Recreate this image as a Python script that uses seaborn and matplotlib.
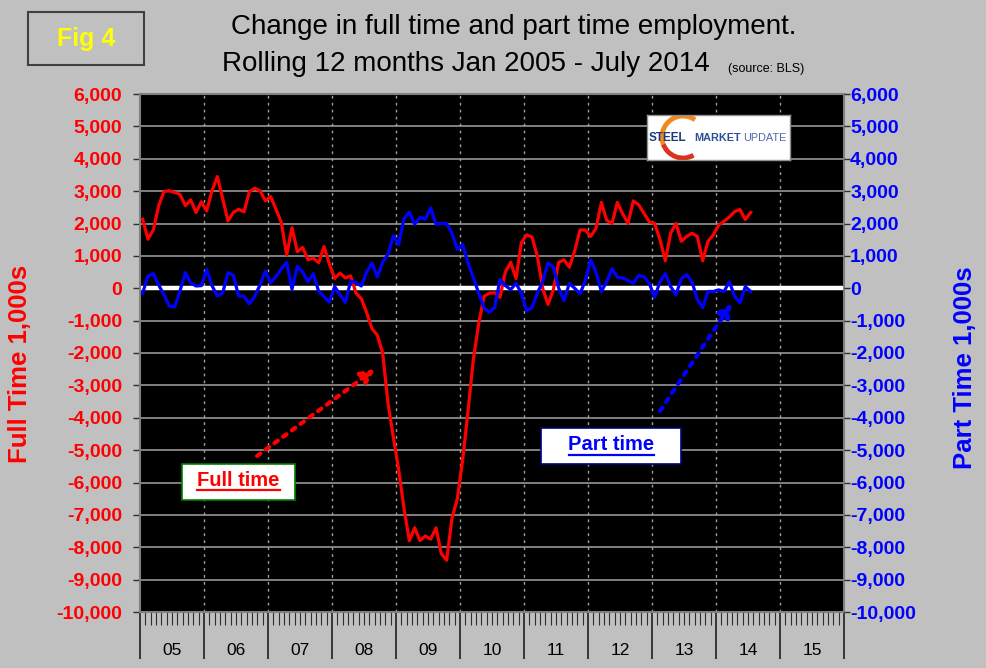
import numpy as np
import pandas as pd
import matplotlib
matplotlib.use("Agg")
import matplotlib.pyplot as plt
import seaborn as sns
from matplotlib.patches import Rectangle, Arc
from matplotlib.lines import Line2D
import matplotlib.transforms as mtransforms

# ---------------- data (thousands, rolling 12-month change) ----------------
year_labels = ["05", "06", "07", "08", "09", "10", "11", "12", "13", "14", "15"]
first_year = 2005
n_months = 115  # Jan 2005 .. Jul 2014

full_time = [
    2130, 1515, 1800, 2550, 2990, 3010, 2960, 2900, 2550, 2730, 2340, 2670,   # 2005
    2390, 3010, 3450, 2770, 2080, 2340, 2440, 2360, 2980, 3090, 3010, 2700,   # 2006
    2830, 2440, 2030, 1030, 1870, 1130, 1260, 880, 930, 790, 1290, 750,       # 2007
    300, 470, 320, 380, -150, -320, -750, -1250, -1450, -2000, -3550, -4600,  # 2008
    -5600, -6800, -7800, -7400, -7800, -7650, -7750, -7400, -8200, -8400, -7100, -6500,  # 2009
    -5300, -3800, -2200, -1100, -250, -150, -140, -280, 500, 800, 300, 1400,  # 2010
    1650, 1580, 1000, 0, -500, -50, 800, 880, 650, 1150, 1800, 1800,          # 2011
    1600, 1850, 2650, 2100, 2000, 2650, 2300, 2000, 2700, 2580, 2310, 2050,   # 2012
    2000, 1500, 850, 1700, 2000, 1450, 1600, 1700, 1600, 850, 1450, 1650,     # 2013
    1950, 2070, 2200, 2370, 2430, 2120, 2340,                                 # 2014
]

part_time = [
    -150, 380, 450, 100, -200, -550, -580, -80, 480, 170, 70, 80,             # 2005
    580, 80, -240, -150, 480, 400, -240, -250, -480, -250, 100, 530,          # 2006
    170, 360, 600, 800, -30, 680, 500, 200, 450, -100, -250, -430,            # 2007
    50, -200, -440, 220, 170, 70, 500, 780, 350, 800, 1050, 1620,             # 2008
    1350, 2150, 2350, 1980, 2190, 2130, 2480, 1980, 2000, 2000, 1700, 1200,   # 2009
    1350, 780, 330, -150, -600, -740, -600, 270, 80, -40, 150, -150,          # 2010
    -700, -600, -150, 200, 780, 650, 0, -380, 150, 0, -170, 230,              # 2011
    870, 500, -100, 200, 600, 340, 320, 240, 150, 400, 350, 150,              # 2012
    -280, 200, 450, 50, -200, 300, 420, 200, -350, -600, -100, -100,          # 2013
    -50, -100, 200, -250, -450, 50, -100,                                     # 2014
]

y_ticks = list(range(-10000, 6001, 1000))

t = first_year + (np.arange(n_months) + 0.5) / 12.0
df = pd.DataFrame({"t": t, "full": full_time, "part": part_time})

# ---------------- figure ----------------
plt.rcParams["font.family"] = ["Liberation Sans", "DejaVu Sans"]
W, H = 987, 668
BG = "#c0c0c0"
fig = plt.figure(figsize=(W / 100, H / 100), dpi=100, facecolor=BG)

def fx(x):
    return x / W

def fy(y):
    return 1 - y / H

ax = fig.add_axes([fx(140), fy(612), 704 / W, 518 / H])
ax.set_facecolor("black")
ax.set_xlim(first_year, first_year + 11)
ax.set_ylim(-10000, 6000)

# grid
for v in y_ticks:
    if v != 0:
        ax.axhline(v, color="#808080", lw=1.4, zorder=1)
for yr in range(first_year + 1, first_year + 11):
    ax.axvline(yr, color="#a0a0a0", lw=1.0, ls=(0, (2, 3)), zorder=1)
ax.axhline(0, color="white", lw=3.2, zorder=2)

sns.lineplot(data=df, x="t", y="full", ax=ax, color="#ff0000", lw=2.3, zorder=4)

ax2 = ax.twinx()
ax2.set_ylim(-10000, 6000)
sns.lineplot(data=df, x="t", y="part", ax=ax2, color="#0000ff", lw=2.3, zorder=4)

# y axes
tick_lbls = [f"{v:,}" for v in y_ticks]
ax.set_yticks(y_ticks)
ax.set_yticklabels(tick_lbls, color="#ff0000", fontweight="bold", fontsize=14)
ax.tick_params(axis="y", length=5, width=1, color="#303030", pad=8)
ax2.set_yticks(y_ticks)
ax2.set_yticklabels(tick_lbls, color="#0000ff", fontweight="bold", fontsize=14)
ax2.tick_params(axis="y", length=4, width=1, color="#303030", pad=0.5)
ax.set_ylabel("")
ax2.set_ylabel("")

# x axis
ax.set_xticks(range(first_year, first_year + 12))
ax.set_xticks(first_year + np.arange(0, 132) / 12.0, minor=True)
ax.tick_params(axis="x", which="major", length=34, width=1.2, color="#202020", labelbottom=False)
ax.tick_params(axis="x", which="minor", length=9, width=0.8, color="#303030")
ax.set_xlabel("")
blend = mtransforms.blended_transform_factory(ax.transData, ax.transAxes)
for i, lab in enumerate(year_labels):
    ax.text(first_year + i + 0.5, -0.074, lab, transform=blend, ha="center", va="center",
            fontsize=12.5, color="black")

for s in ax.spines.values():
    s.set_color("#808080")
    s.set_linewidth(1.5)
for s in ax2.spines.values():
    s.set_visible(False)

# axis titles
fig.text(fx(20), fy(364), "Full Time 1,000s", rotation=90, color="#ff0000", fontweight="bold",
         fontsize=18.5, ha="center", va="center")
fig.text(fx(965), fy(368), "Part Time 1,000s", rotation=90, color="#0000ff", fontweight="bold",
         fontsize=18.5, ha="center", va="center")

# title
fig.text(fx(514), fy(27), "Change in full time and part time employment.", ha="center", va="center",
         fontsize=20, color="black")
fig.text(fx(222), fy(64), "Rolling 12 months Jan 2005 - July 2014", ha="left", va="center",
         fontsize=20, color="black")
fig.text(fx(728), fy(69), "(source: BLS)", ha="left", va="center", fontsize=9, color="black")

# Fig 4 box
fig.add_artist(Rectangle((fx(28), fy(65)), 116 / W, 53 / H, transform=fig.transFigure,
                         facecolor=BG, edgecolor="#404040", lw=1.5))
fig.text(fx(86), fy(39), "Fig 4", ha="center", va="center", fontsize=18, fontweight="bold",
         color="#ffff00")

# annotation boxes
def label_box(x0, y0, x1, y1, text, tcolor, ecolor):
    fig.add_artist(Rectangle((fx(x0), fy(y1)), (x1 - x0) / W, (y1 - y0) / H,
                             transform=fig.transFigure, facecolor="white", edgecolor=ecolor,
                             lw=1.2, zorder=10))
    cx, cy = (x0 + x1) / 2, (y0 + y1) / 2 - 1
    tx = fig.text(fx(cx), fy(cy), text, ha="center", va="center", fontsize=14.5,
                  fontweight="bold", color=tcolor, zorder=11)
    return tx

label_box(182, 464, 295, 500, "Full time", "#ff0000", "#008000")
fig.add_artist(Line2D([fx(197), fx(280)], [fy(490), fy(490)], transform=fig.transFigure,
                      color="#ff0000", lw=1.6, zorder=12))
label_box(541, 428, 681, 464, "Part time", "#0000ff", "#000080")
fig.add_artist(Line2D([fx(569), fx(654)], [fy(455), fy(455)], transform=fig.transFigure,
                      color="#0000ff", lw=1.6, zorder=12))

# dotted arrows
ax.annotate("", xy=(375, H - 369), xytext=(257, H - 456), xycoords="figure pixels",
            textcoords="figure pixels",
            arrowprops=dict(arrowstyle="-|>,head_length=0.8,head_width=0.4", color="#ff0000",
                            lw=3, ls=(0, (1, 1.6)), shrinkA=0, shrinkB=0), zorder=9)
ax.annotate("", xy=(732, H - 303), xytext=(660, H - 411), xycoords="figure pixels",
            textcoords="figure pixels",
            arrowprops=dict(arrowstyle="-|>,head_length=0.8,head_width=0.4", color="#0000ff",
                            lw=3, ls=(0, (1, 1.6)), shrinkA=0, shrinkB=0), zorder=9)

# logo
lg = fig.add_axes([fx(647), fy(160), 143 / W, 45 / H])
lg.set_xlim(0, 143)
lg.set_ylim(0, 45)
lg.set_facecolor("white")
lg.set_xticks([])
lg.set_yticks([])
for s in lg.spines.values():
    s.set_color("#909090")
    s.set_linewidth(1)
lg.add_patch(Arc((36, 23), 42, 42, theta1=55, theta2=200, lw=3.5, color="#f08a1c"))
lg.add_patch(Arc((36, 23), 42, 42, theta1=200, theta2=300, lw=3.5, color="#d9341e"))
lg.text(2, 22, "STEEL", fontsize=8.5, fontweight="bold", color="#1d3b7c", va="center", ha="left")
lg.text(47, 22, "MARKET", fontsize=7.8, fontweight="semibold", color="#2c4f95", va="center", ha="left")
lg.text(96, 22, "UPDATE", fontsize=7.8, color="#4a6cae", va="center", ha="left")

fig.savefig("out.png", dpi=100, facecolor=BG)
